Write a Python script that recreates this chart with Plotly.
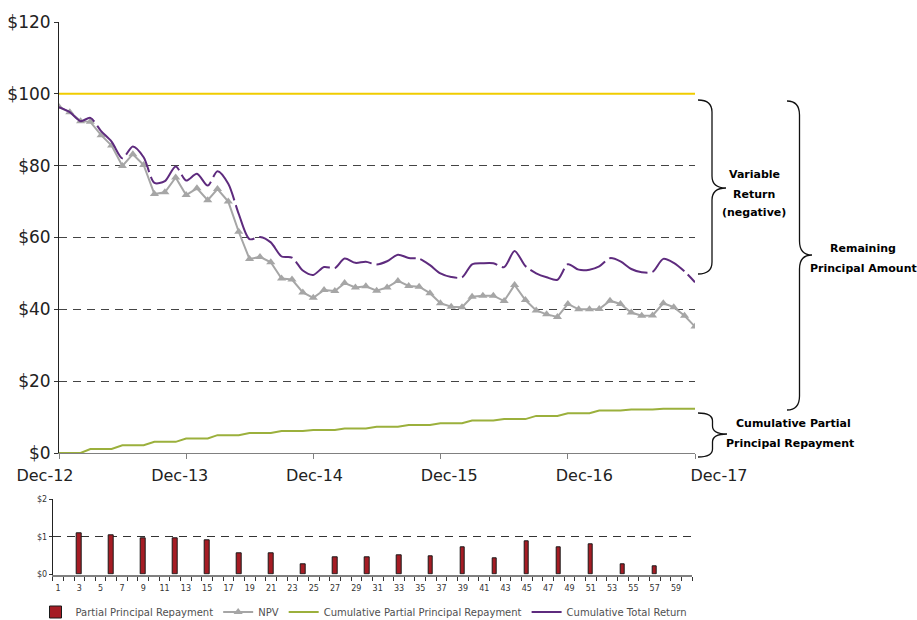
import numpy as np
import pandas as pd
import plotly.graph_objects as go

# ---------------- data ----------------
months = pd.date_range("2012-12-01", periods=61, freq="MS")  # Dec-12 .. Dec-17
npv = [96.3, 94.9, 92.4, 92.2, 88.5, 85.6, 79.9, 83.2, 80.2, 72.1,
       72.6, 76.7, 71.8, 73.7, 70.4, 73.5, 70.0, 61.6, 54.0, 54.6,
       53.1, 48.6, 48.3, 44.7, 43.2, 45.4, 45.1, 47.3, 46.1, 46.4,
       45.2, 46.1, 47.9, 46.5, 46.3, 44.5, 41.7, 40.7, 40.6, 43.5,
       43.8, 43.8, 42.3, 46.8, 42.6, 39.7, 38.6, 37.9, 41.5, 40.0,
       40.0, 40.1, 42.4, 41.5, 39.1, 38.2, 38.3, 41.7, 40.6, 38.2, 35.2]
repay_periods = [3, 6, 9, 12, 15, 18, 21, 24, 27, 30, 33, 36, 39, 42, 45, 48, 51, 54, 57]
repay_values = [1.10, 1.05, 0.95, 0.95, 0.92, 0.57, 0.57, 0.28, 0.45, 0.45,
                0.52, 0.49, 0.72, 0.42, 0.89, 0.72, 0.80, 0.28, 0.22]
principal = 100
y_ticks = [0, 20, 40, 60, 80, 100, 120]
y_labels = ["$0", "$20", "$40", "$60", "$80", "$100", "$120"]
y2_ticks = [0, 1, 2]
y2_labels = ["$0", "$1", "$2"]
period_labels = list(range(1, 61))

# derived series
monthly_repay = np.zeros(61)
for p, v in zip(repay_periods, repay_values):
    monthly_repay[p] = v
cum_repay = np.cumsum(monthly_repay)
total_return = np.array(npv) + cum_repay

# ---------------- geometry helpers ----------------
W, H = 917, 620
fx = lambda px: px / W
fy = lambda py: 1 - py / H

FONT = "DejaVu Sans"

fig = go.Figure()

fig.add_trace(go.Bar(
    x=repay_periods, y=repay_values, name="Partial Principal Repayment",
    marker=dict(color="#A51C24", line=dict(color="#1a1a1a", width=1)),
    width=0.42, xaxis="x2", yaxis="y2"))
fig.add_trace(go.Scatter(
    x=months, y=npv, name="NPV", mode="lines+markers",
    line=dict(color="#A6A6A6", width=2),
    marker=dict(symbol="triangle-up", size=8, color="#A6A6A6")))
fig.add_trace(go.Scatter(
    x=months, y=cum_repay, name="Cumulative Partial Principal Repayment",
    mode="lines", line=dict(color="#9BB03C", width=2)))
fig.add_trace(go.Scatter(
    x=months, y=total_return, name="Cumulative Total Return",
    mode="lines", line=dict(color="#5E2B7E", width=2, shape="spline",
                            smoothing=0.8, dash="42px,5px")))
# empty carrier trace for the date-label axis (no visible marks)
fig.add_trace(go.Scatter(x=[months[0], months[-1]], y=[None, None], xaxis="x3",
                         yaxis="y3", showlegend=False, hoverinfo="skip", mode="lines"))

# principal line at $100
fig.add_shape(type="line", xref="x domain", yref="y", x0=0, x1=1,
              y0=principal, y1=principal, line=dict(color="#F0CC00", width=2))


def brace(x0, x1, ytop, ybot, ymid, r=8):
    xm = (x0 + x1) / 2
    pts = [
        f"M {fx(x0)},{fy(ytop)}",
        f"Q {fx(xm)},{fy(ytop)} {fx(xm)},{fy(ytop + r)}",
        f"L {fx(xm)},{fy(ymid - r)}",
        f"Q {fx(xm)},{fy(ymid)} {fx(x1)},{fy(ymid)}",
        f"Q {fx(xm)},{fy(ymid)} {fx(xm)},{fy(ymid + r)}",
        f"L {fx(xm)},{fy(ybot - r)}",
        f"Q {fx(xm)},{fy(ybot)} {fx(x0)},{fy(ybot)}",
    ]
    fig.add_shape(type="path", xref="paper", yref="paper", path=" ".join(pts),
                  line=dict(color="#111111", width=1.3))


brace(698, 726, 100, 274, 188, r=12)
brace(787, 812, 101, 410, 255, r=14)
brace(698, 727, 413, 457, 434, r=8)


def label(text, px, py, size=11):
    fig.add_annotation(text=text, x=fx(px), y=fy(py), xref="paper", yref="paper",
                       showarrow=False, font=dict(family=FONT, size=size, color="#000"),
                       xanchor="center", yanchor="middle")


label("<b>Variable</b>", 754, 174)
label("<b>Return</b>", 754, 194)
label("<b>(negative)</b>", 754, 213)
label("<b>Remaining</b>", 863, 248)
label("<b>Principal Amount</b>", 863, 268)
label("<b>Cumulative Partial</b>", 793, 423)
label("<b>Principal Repayment</b>", 790, 443)

fig.update_layout(
    width=W, height=H,
    margin=dict(l=0, r=0, t=0, b=0, autoexpand=False),
    paper_bgcolor="white", plot_bgcolor="rgba(0,0,0,0)",
    font=dict(family=FONT, color="#222"),
    showlegend=True,
    legend=dict(orientation="h", x=fx(364), xanchor="center", y=fy(612), yanchor="middle",
                font=dict(family=FONT, size=10, color="#505050"),
                itemwidth=30, tracegroupgap=0),
    bargap=0,
    xaxis=dict(domain=[fx(59), fx(695)], anchor="y", type="date", automargin=False,
               range=[months[0], months[-1]], tick0=months[0], dtick="M12",
               showticklabels=False, ticks="outside", ticklen=5, tickcolor="#808080",
               showline=True, linecolor="#808080", linewidth=1,
               showgrid=False, zeroline=False),
    xaxis3=dict(domain=[fx(45), fx(719)], anchor="y3", side="bottom",
                type="date", automargin=False,
                range=[months[0], months[-1]], tick0=months[0], dtick="M12",
                tickformat="%b-%y", ticks="", showline=False, showgrid=False,
                zeroline=False, ticklabelstandoff=11,
                tickfont=dict(family=FONT, size=16, color="#222")),
    yaxis3=dict(domain=[fy(453), fy(22)], anchor="x3", range=[0, 120], visible=False,
                showgrid=False, zeroline=False, automargin=False),
    yaxis=dict(domain=[fy(453), fy(22)], anchor="x", range=[0, 120], automargin=False,
               tickmode="array", tickvals=y_ticks, ticktext=y_labels,
               ticks="outside", ticklen=4, tickcolor="#333",
               showline=True, linecolor="#222", linewidth=1,
               showgrid=True, gridcolor="#444", griddash="8px,6px", gridwidth=1,
               zeroline=False,
               tickfont=dict(family=FONT, size=17, color="#222")),
    xaxis2=dict(domain=[fx(52.7), fx(692)], anchor="y2", range=[0.5, 60.5], automargin=False,
                tickmode="array", tickvals=period_labels[::2],
                ticktext=[str(v) for v in period_labels[::2]],
                ticks="", showline=True, linecolor="#808080", linewidth=2,
                ticklabelstandoff=5,
                minor=dict(tickmode="linear", tick0=0.5, dtick=1, ticks="outside",
                           ticklen=4, tickcolor="#333", showgrid=False),
                showgrid=False, zeroline=False,
                tickfont=dict(family=FONT, size=8, color="#333")),
    yaxis2=dict(domain=[fy(574.5), fy(499.3)], anchor="x2", range=[0, 2], automargin=False,
                tickmode="array", tickvals=y2_ticks, ticktext=y2_labels,
                ticks="outside", ticklen=3, tickcolor="#333",
                showline=True, linecolor="#222", linewidth=1,
                showgrid=True, gridcolor="#333", griddash="8px,6px",
                zeroline=False,
                tickfont=dict(family=FONT, size=8, color="#333")),
)

fig.write_html("out.html", config={"displayModeBar": False},
               post_script="document.body.style.margin='0';document.body.style.overflow='hidden';")
